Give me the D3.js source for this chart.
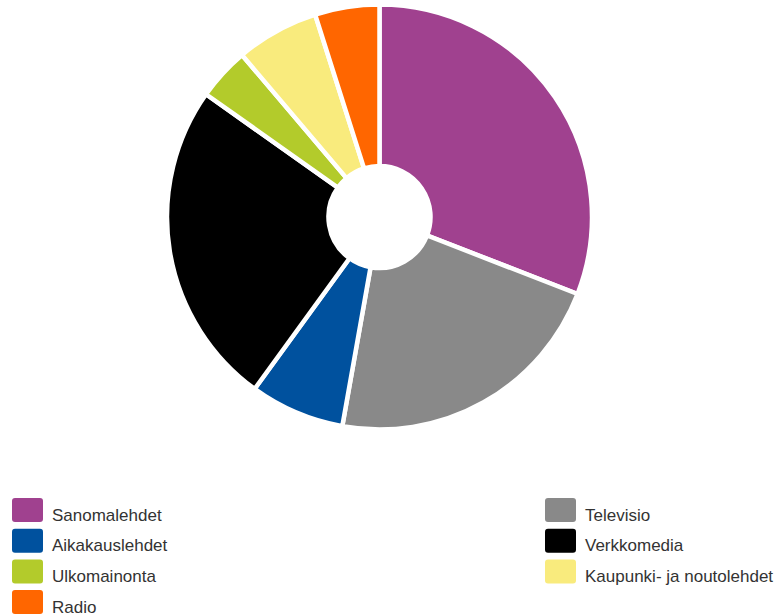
<!DOCTYPE html>
<html>
<head>
<meta charset="utf-8">
<script src="https://cdn.jsdelivr.net/npm/d3@7"></script>
<style>
  html, body { margin: 0; padding: 0; background: #fff; }
  svg { display: block; font-family: "Liberation Sans", Arial, sans-serif; }
</style>
</head>
<body>
<svg id="chart" width="779" height="616"></svg>
<script>
// Advertising media shares (%)
const categories = ["Sanomalehdet", "Televisio", "Aikakauslehdet", "Verkkomedia",
                    "Ulkomainonta", "Kaupunki- ja noutolehdet", "Radio"];
const shares = [30.9, 21.9, 7.2, 24.8, 4.0, 6.3, 4.9];
const colors = ["#A0418F", "#898989", "#00519E", "#000000", "#B3CB2B", "#F9EB7D", "#FF6600"];

const svg = d3.select("#chart");
const cx = 379.5, cy = 217, outerR = 212.5, innerR = 51;

const data = categories.map((c, i) => ({ name: c, value: shares[i], color: colors[i] }));

const pie = d3.pie().value(d => d.value).sort(null);
const arc = d3.arc().innerRadius(innerR).outerRadius(outerR);

const g = svg.append("g").attr("transform", `translate(${cx},${cy})`);
g.selectAll("path")
  .data(pie(data))
  .join("path")
  .attr("d", arc)
  .attr("fill", d => d.data.color)
  .attr("stroke", "#fff")
  .attr("stroke-width", 4.5)
  .attr("stroke-linejoin", "miter");

// Legend: two columns, filled row by row
const colX = [12, 545];
const rowY0 = 498, rowStep = 30.7;
const legend = svg.append("g");
const items = legend.selectAll("g")
  .data(data)
  .join("g")
  .attr("transform", (d, i) => `translate(${colX[i % 2]},${rowY0 + Math.floor(i / 2) * rowStep})`);

items.append("rect")
  .attr("width", 31).attr("height", 24)
  .attr("rx", 3).attr("ry", 3)
  .attr("fill", d => d.color);

items.append("text")
  .attr("x", 40).attr("y", 22.5)
  .attr("font-size", 17)
  .attr("fill", "#333")
  .text(d => d.name);
</script>
</body>
</html>
